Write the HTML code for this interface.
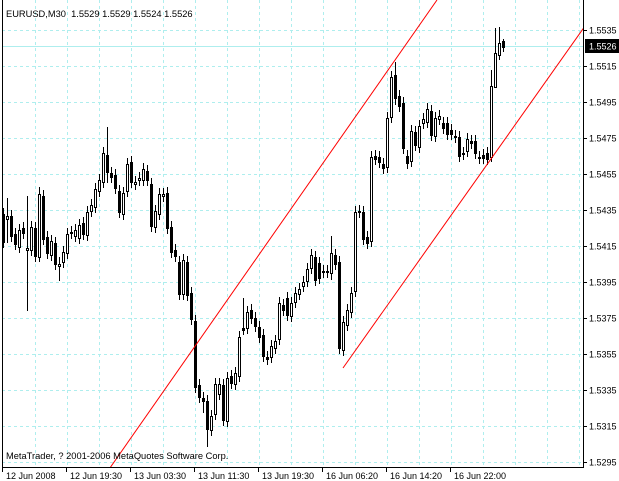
<!DOCTYPE html>
<html><head><meta charset="utf-8"><style>
html,body{margin:0;padding:0;background:#fff;}
svg{display:block;font-family:"Liberation Sans",sans-serif;}
</style></head><body>
<svg id="c" width="619" height="481" xmlns="http://www.w3.org/2000/svg">
<rect width="619" height="481" fill="#fff"/>
<g id="grid" stroke="#aeeeee" stroke-width="1" stroke-dasharray="3,3"></g>
<line x1="2" y1="46.5" x2="583" y2="46.5" stroke="#aeeeee"/>
<g id="candles" stroke="#000" stroke-width="1" shape-rendering="crispEdges"></g>
<clipPath id="cp"><rect x="2" y="0" width="581" height="467"/></clipPath>
<g clip-path="url(#cp)" stroke="#ff0000" stroke-width="1">
<line x1="108.5" y1="470" x2="437" y2="0"/>
<line x1="343" y1="368" x2="590" y2="19"/>
</g>
<line x1="2.5" y1="0" x2="2.5" y2="467" stroke="#000"/>
<line x1="583.5" y1="0" x2="583.5" y2="467" stroke="#000"/>
<line x1="2" y1="467.5" x2="584" y2="467.5" stroke="#000"/>
<g id="axis" font-size="9" fill="#000"></g>
<rect x="585" y="39" width="34" height="14" fill="#000"/>
<text x="589" y="49.5" font-size="9" fill="#fff">1.5526</text>
<text x="6" y="17" font-size="9.3" fill="#000" xml:space="preserve">EURUSD,M30  1.5529 1.5529 1.5524 1.5526</text>
<text x="6" y="459" font-size="9.3" fill="#000">MetaTrader, ? 2001-2006 MetaQuotes Software Corp.</text>
</svg>
<script>
const NS="http://www.w3.org/2000/svg";
function el(p,t,a,txt){const e=document.createElementNS(NS,t);for(const k in a)e.setAttribute(k,a[k]);if(txt!=null)e.textContent=txt;p.appendChild(e);return e;}
const g=document.getElementById('grid');
for(let y=30;y<=463;y+=36){el(g,'line',{x1:2,y1:y+0.5,x2:583,y2:y+0.5});}
for(let x=35;x<583;x+=32){el(g,'line',{x1:x+0.5,y1:0,x2:x+0.5,y2:467});}
const ax=document.getElementById('axis');
const prices=["1.5535","1.5515","1.5495","1.5475","1.5455","1.5435","1.5415","1.5395","1.5375","1.5355","1.5335","1.5315","1.5295"];
prices.forEach((p,i)=>{const y=30+36*i;el(ax,'line',{x1:583,y1:y+0.5,x2:587,y2:y+0.5,stroke:'#000'});el(ax,'text',{x:589,y:y+3.5},p);});
const labs=["12 Jun 2008","12 Jun 19:30","13 Jun 03:30","13 Jun 11:30","13 Jun 19:30","16 Jun 06:20","16 Jun 14:20","16 Jun 22:00"];
labs.forEach((l,i)=>{const x=2+64*i;el(ax,'line',{x1:x+0.5,y1:467,x2:x+0.5,y2:472,stroke:'#000'});el(ax,'text',{x:x+4,y:479},l);});
const d=[
[3,214,242,0],[7,216,219,1,198,243],[11,216,236,0],[15,234,244,0],[19,230,247,1],[23,228,233,0],[27,248,250,1,196,311],[31,227,250,1],[35,228,256,0],[39,194,257,1,187,262],[43,196,239,0],[47,237,253,0],[51,241,255,1],[55,243,264,0],[59,264,266,1,257,281],[63,252,262,1],[67,234,253,1],[71,232,233,1],[75,230,236,1],[79,225,238,1],[83,223,234,0],[87,212,235,1],[91,205,211,1],[95,189,207,1],[99,180,191,1],[103,153,182,1],[107,155,172,0,127,183],[111,173,177,0],[115,175,188,0],[119,191,212,0],[123,193,214,1],[127,164,191,1],[131,162,182,0],[135,182,184,1],[139,178,180,1],[143,169,180,1],[147,171,180,0],[151,184,226,0],[155,211,227,1],[159,194,214,1],[163,194,196,1],[167,193,228,0],
[171,227,252,0],[175,250,256,0],[179,262,294,0],[183,260,294,1],[187,262,295,0],[191,293,319,0],[195,321,387,0],[199,385,397,0],[203,398,401,0,392,413],[207,401,429,0,395,447],[211,416,430,1],[215,384,414,1],[219,384,394,1],[223,385,420,0],[227,378,421,1],[231,376,383,0],[235,373,384,1],[239,337,376,1],[243,328,330,0,298,335],[247,312,328,1],[251,310,318,0],[255,318,326,0],[259,327,337,0],[263,335,356,0],[267,357,359,0],[271,346,357,1],[275,341,348,1],[279,303,339,1],[283,305,310,0],[287,298,315,0],[291,303,316,1],[295,293,302,1],[299,289,294,1],[303,282,286,1],[307,269,281,1],[311,255,268,1],[315,257,280,0],[319,263,278,0],[323,271,272,1],[327,271,272,1],[331,253,273,1,236,280],[335,255,264,0],[339,262,348,0],[343,322,350,1],[347,310,325,1],[351,293,312,1],[355,212,291,1],[359,211,212,1],[363,212,239,0],[367,237,243,0],[371,157,241,1],[375,156,159,0],[379,157,162,0],[383,164,168,0],[387,118,167,1],[391,77,117,1],[395,75,98,0,62,105],[399,96,106,0],[403,103,148,0],[407,156,163,0],[411,131,161,1],[415,132,145,0],[419,126,147,1],[423,119,123,1],[427,109,122,1],[431,111,135,0],[435,118,136,1],[439,116,119,1],[443,123,128,0],[447,123,134,0],[451,130,134,0],[455,136,137,1],[459,137,156,0],[463,153,154,1],[467,139,151,1],[471,141,143,0],[475,141,153,0],[479,157,158,1],[483,155,158,0],[487,153,159,0],[491,86,157,1,70,162],[495,53,87,1,28,67],[499,43,55,1,27,60],[503,41,47,0,39,52]
];
const c=document.getElementById('candles');
d.forEach(r=>{const [x,t,b,w]=r;const wt=r[4]!=null?r[4]:t-6;const wb=r[5]!=null?r[5]:b+6;
el(c,'line',{x1:x+0.5,y1:wt,x2:x+0.5,y2:wb});
el(c,'rect',{x:x-0.5,y:t+0.5,width:2,height:Math.max(b-t,1),fill:w?'#fff':'#000'});});
</script>
</body></html>
